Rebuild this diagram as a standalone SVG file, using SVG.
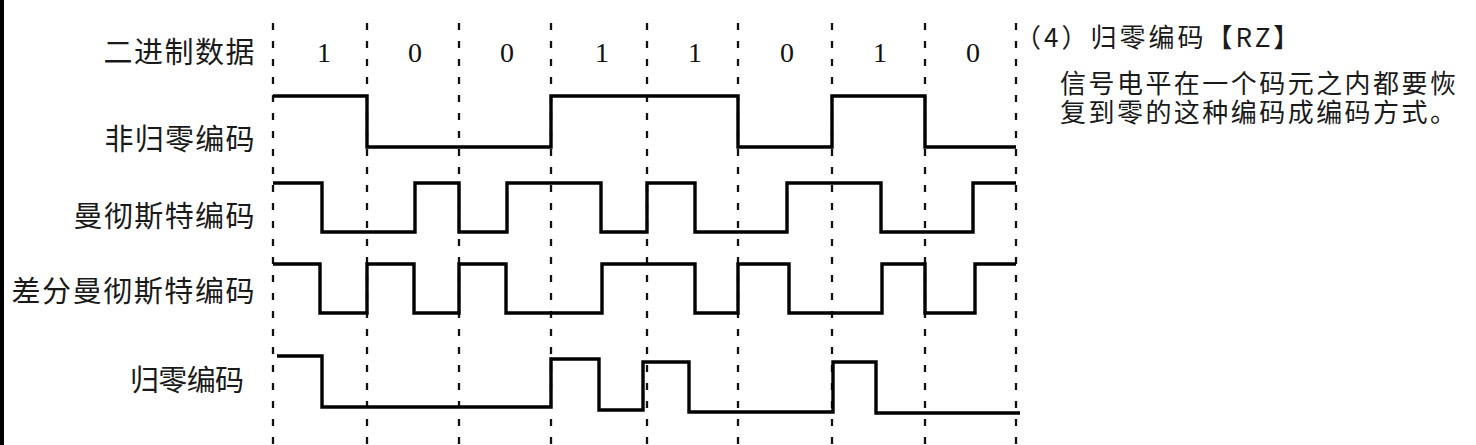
<svg xmlns="http://www.w3.org/2000/svg" width="1476" height="445" viewBox="0 0 1476 445">
<style>
.lbl{font-family:"Noto Sans CJK SC","Noto Sans",sans-serif;font-size:29px;fill:#1a1a1a}
.bit{font-family:"Liberation Serif",serif;font-size:28px;fill:#111;text-anchor:middle}
.note{font-family:"Noto Sans CJK SC","Noto Sans",sans-serif;font-size:26px;fill:#1a1a1a}
.grid{stroke:#111;stroke-width:2.3;stroke-dasharray:7 11;fill:none}
.sig{stroke:#000;stroke-width:3.4;fill:none;stroke-linejoin:miter}
</style>
<rect width="1476" height="445" fill="#fff"/>
<rect x="0" y="0" width="4" height="445" fill="#000"/>
<g id="grid">
<line class="grid" x1="273" y1="23" x2="273" y2="445"/>
<line class="grid" x1="367" y1="23" x2="367" y2="445"/>
<line class="grid" x1="459" y1="23" x2="459" y2="445"/>
<line class="grid" x1="551" y1="23" x2="551" y2="445"/>
<line class="grid" x1="647" y1="23" x2="647" y2="445"/>
<line class="grid" x1="738" y1="23" x2="738" y2="445"/>
<line class="grid" x1="832" y1="23" x2="832" y2="445"/>
<line class="grid" x1="925" y1="23" x2="925" y2="445"/>
<line class="grid" x1="1016" y1="23" x2="1016" y2="445"/>
</g>
<g id="row-binary">
<text class="lbl" x="103.5" y="63" textLength="151" lengthAdjust="spacing">二进制数据</text>
<text class="bit" x="324" y="62">1</text>
<text class="bit" x="415" y="62">0</text>
<text class="bit" x="507" y="62">0</text>
<text class="bit" x="602" y="62">1</text>
<text class="bit" x="695" y="62">1</text>
<text class="bit" x="787" y="62">0</text>
<text class="bit" x="880" y="62">1</text>
<text class="bit" x="973" y="62">0</text>
</g>
<g id="row-nrz">
<text class="lbl" x="104.5" y="150" textLength="150" lengthAdjust="spacing">非归零编码</text>
<path class="sig" d="M273,96 H367 V147 H551 V96 H738 V147 H832 V96 H925 V147 H1016"/>
</g>
<g id="row-manchester">
<text class="lbl" x="73.5" y="227" textLength="181" lengthAdjust="spacing">曼彻斯特编码</text>
<path class="sig" d="M273,183 H322 V232 H415 V183 H459 V232 H507 V183 H601 V232 H647 V183 H695 V232 H787 V183 H881 V232 H973 V183 H1016"/>
</g>
<g id="row-diff-manchester">
<text class="lbl" x="11.5" y="302" textLength="243" lengthAdjust="spacing">差分曼彻斯特编码</text>
<path class="sig" d="M273,264 H320 V313 H367 V264 H414 V313 H459 V264 H506 V313 H602 V264 H695 V313 H738 V264 H789 V313 H882 V264 H925 V313 H975 V264 H1016"/>
</g>
<g id="row-rz">
<text class="lbl" x="130" y="391" textLength="114" lengthAdjust="spacing">归零编码</text>
<path class="sig" d="M277,356 H322 V407 H551 V359 H599 V410 H643 V362 H689 V412 H833 V362 H876 V413 H1020"/>
</g>
<g id="note">
<text class="note" x="1015" y="47" letter-spacing="3">（4）归零编码【RZ】</text>
<text class="note" x="1060" y="93" textLength="396" lengthAdjust="spacing">信号电平在一个码元之内都要恢</text>
<text class="note" x="1060" y="122" textLength="396" lengthAdjust="spacing">复到零的这种编码成编码方式。</text>
</g>
</svg>
